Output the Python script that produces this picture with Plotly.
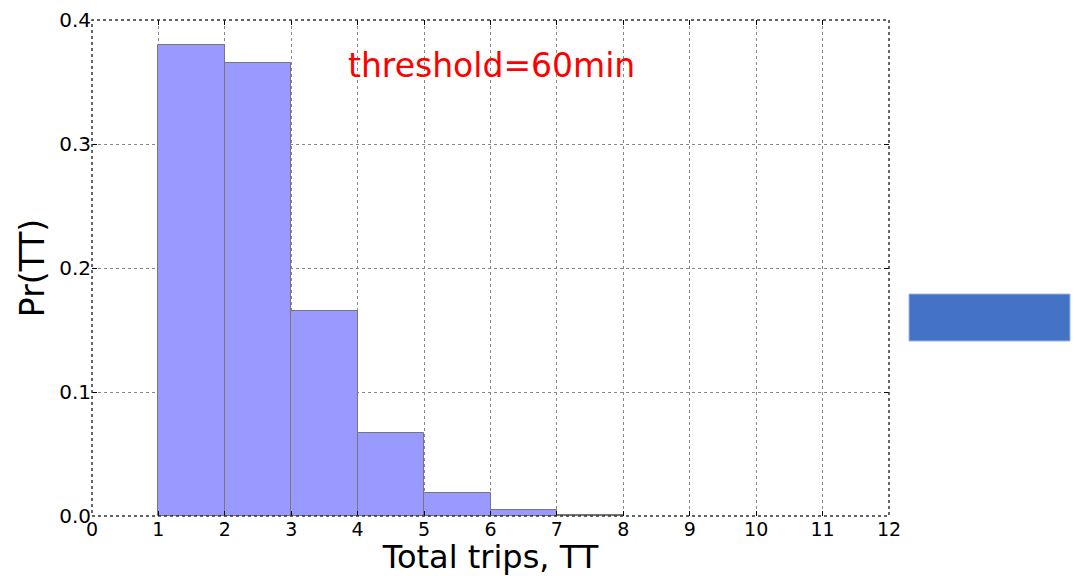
import plotly.graph_objects as go

bin_left = [1, 2, 3, 4, 5, 6, 7]
probabilities = [0.380, 0.365, 0.165, 0.067, 0.0185, 0.0048, 0.0008]
x_ticks = list(range(0, 13))
y_ticks = [0.0, 0.1, 0.2, 0.3, 0.4]
annotation_text = "threshold=60min"

centers = [b + 0.5 for b in bin_left]

fig = go.Figure()
fig.add_trace(go.Bar(
    x=centers, y=probabilities, width=[1.0] * len(centers),
    marker=dict(color="#9999ff", line=dict(color="#777777", width=1)),
    showlegend=False,
))

font_family = "DejaVu Sans"
fig.update_layout(
    width=1076, height=576,
    margin=dict(l=92, r=187, t=20, b=60),
    paper_bgcolor="white", plot_bgcolor="white",
    font=dict(family=font_family, color="black"),
    bargap=0,
    xaxis=dict(
        range=[0, 12], tickvals=x_ticks, ticktext=[str(v) for v in x_ticks],
        showgrid=True, gridcolor="#888888", griddash="dot", gridwidth=1,
        ticks="inside", ticklen=5, tickcolor="black", mirror="allticks",
        showline=False, zeroline=False, automargin=False,
        tickfont=dict(size=19, family=font_family),
        title=dict(text="Total trips, TT", font=dict(size=32, family=font_family), standoff=3),
    ),
    yaxis=dict(
        range=[0, 0.4], tickvals=y_ticks, ticktext=[f"{v:.1f}" for v in y_ticks],
        showgrid=True, gridcolor="#888888", griddash="dot", gridwidth=1,
        ticks="inside", ticklen=5, tickcolor="black", mirror="allticks",
        showline=False, zeroline=False, automargin=False,
        tickfont=dict(size=20, family=font_family),
        title=dict(text="Pr(TT)", font=dict(size=33, family=font_family), standoff=4),
    ),
    shapes=[
        dict(type="rect", xref="paper", yref="paper", x0=0, x1=1, y0=0, y1=1,
             line=dict(color="#333333", width=1.5, dash="dot"), fillcolor="rgba(0,0,0,0)", layer="above"),
        dict(type="rect", xref="paper", yref="paper",
             x0=(909 - 92) / 797, x1=(1070 - 92) / 797,
             y0=(516 - 341) / 496, y1=(516 - 294) / 496,
             line=dict(color="#9fb5e0", width=1), fillcolor="#4472C4"),
    ],
    annotations=[
        dict(x=6.02, y=0.363, xref="x", yref="y", text=annotation_text, showarrow=False,
             font=dict(size=33, color="red", family=font_family)),
    ],
)

fig.write_html("out.html")
